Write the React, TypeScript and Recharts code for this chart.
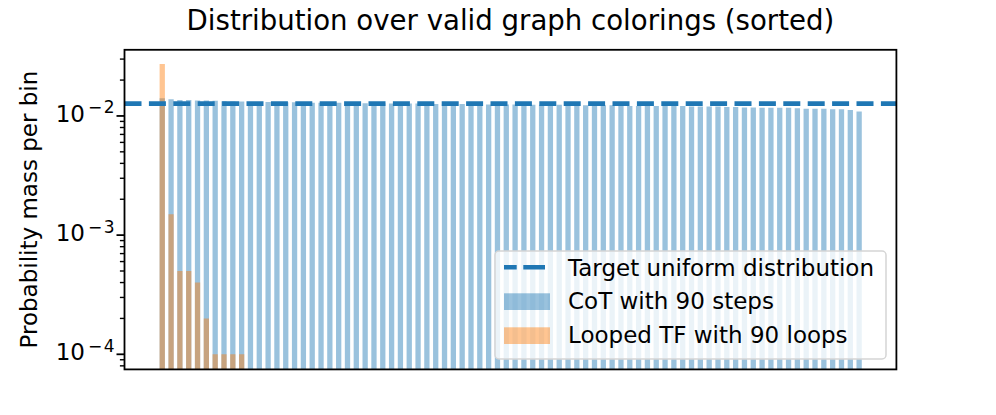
import { BarChart, Bar, XAxis, YAxis, ReferenceLine } from "recharts";

// sorted probability mass per coloring
const cotSteps = [
  0.0141, 0.0138, 0.0136, 0.0136, 0.0135, 0.0135, 0.0134, 0.0133, 0.0132, 0.0132,
  0.0131, 0.0131, 0.0131, 0.013, 0.013, 0.013, 0.0129, 0.0129, 0.0129, 0.0129,
  0.0129, 0.0128, 0.0128, 0.0128, 0.0128, 0.0128, 0.0127, 0.0127, 0.0127, 0.0127,
  0.0127, 0.0126, 0.0126, 0.0126, 0.0126, 0.0126, 0.0125, 0.0125, 0.0125, 0.0125,
  0.0125, 0.0124, 0.0124, 0.0124, 0.0124, 0.0124, 0.0124, 0.0124, 0.0123, 0.0123,
  0.0123, 0.0123, 0.0122, 0.0121, 0.0121, 0.0121, 0.0121, 0.0121, 0.0121, 0.0121,
  0.012, 0.012, 0.012, 0.012, 0.0119, 0.0119, 0.0118, 0.0118, 0.0117, 0.0117,
  0.0117, 0.0117, 0.0116, 0.0115, 0.0115, 0.0115, 0.0114, 0.0114, 0.0112, 0.0109,
];
const loopedTf = [0.0273, 0.0015, 0.0005, 0.0005, 0.0004, 0.0002, 0.0001, 0.0001, 0.0001, 0.0001];
const targetUniform = 0.0127;
const yTicks = [
  8e-5, 9e-5,
  1e-4, 2e-4, 3e-4, 4e-4, 5e-4, 6e-4, 7e-4, 8e-4, 9e-4,
  1e-3, 2e-3, 3e-3, 4e-3, 5e-3, 6e-3, 7e-3, 8e-3, 9e-3,
  1e-2, 2e-2, 3e-2,
];

const data = cotSteps.map((v, i) => ({
  rank: i + 1,
  cot: v,
  looped: i < loopedTf.length ? loopedTf[i] : null,
}));

const FONT = "DejaVu Sans, sans-serif";
const BLUE = "#1f77b4";
const ORANGE = "#ff7f0e";

// plot box (matches the chart margins below)
const PL = 124.5, PT = 49.8, PW = 771.9, PH = 319.6;

// eslint-disable-next-line @typescript-eslint/no-explicit-any
function LogTick({ x, y, payload }: any) {
  const v = payload.value as number;
  const lg = Math.log10(v);
  const major = Math.abs(lg - Math.round(lg)) < 1e-6;
  return (
    <g>
      <line x1={x - (major ? 8 : 4.6)} x2={x} y1={y} y2={y} stroke="#000" strokeWidth={major ? 1.8 : 1.4} />
      {major && (
        <text x={x - 10} y={y + 5.9} textAnchor="end" fontFamily={FONT} fontSize={23} fill="#000">
          <tspan>10</tspan>
          <tspan dy={-8.5} dx={3} fontSize={17}>{"\u2212"}</tspan>
          <tspan dx={1.5} fontSize={17}>{Math.abs(Math.round(lg))}</tspan>
        </text>
      )}
    </g>
  );
}

export default function App() {
  return (
    <div style={{ position: "absolute", left: 0, top: 0, width: 996, height: 415, background: "#fff" }}>
      <BarChart
        width={996}
        height={415}
        data={data}
        margin={{ top: PT, right: 996 - PL - PW, bottom: 415 - PT - PH, left: PL - 60 }}
      >
        <XAxis
          xAxisId="bottom"
          dataKey="rank"
          type="category"
          padding={{ left: 33.1, right: 33.1 }}
          height={0}
          tick={false}
          tickLine={false}
          axisLine={false}
        />
        <XAxis
          xAxisId="top"
          dataKey="rank"
          type="category"
          orientation="top"
          padding={{ left: 33.1, right: 33.1 }}
          height={0}
          tick={false}
          tickLine={false}
          axisLine={false}
        />
        <YAxis
          yAxisId="left"
          scale="log"
          type="number"
          domain={[7.47e-5, 0.0359]}
          allowDataOverflow
          ticks={yTicks}
          interval={0}
          width={60}
          tickSize={0}
          tickMargin={0}
          tickLine={false}
          tick={<LogTick />}
          axisLine={false}
        />
        <Bar
          xAxisId="bottom"
          yAxisId="left"
          dataKey="cot"
          fill={BLUE}
          fillOpacity={0.45}
          barSize={5.3}
          isAnimationActive={false}
        />
        <Bar
          xAxisId="top"
          yAxisId="left"
          dataKey="looped"
          fill={ORANGE}
          fillOpacity={0.45}
          barSize={5.3}
          isAnimationActive={false}
        />
        <ReferenceLine
          xAxisId="bottom"
          yAxisId="left"
          y={targetUniform}
          stroke={BLUE}
          strokeWidth={4.6}
          strokeDasharray="17 7.4"
        />
      </BarChart>
      <svg
        width={996}
        height={415}
        style={{ position: "absolute", left: 0, top: 0, pointerEvents: "none" }}
      >
        <rect x={PL} y={PT} width={PW} height={PH} fill="none" stroke="#000" strokeWidth={1.8} />
        <text x={PL + PW / 2} y={29.5} textAnchor="middle" fontFamily={FONT} fontSize={27.6} fill="#000">
          Distribution over valid graph colorings (sorted)
        </text>
        <text
          x={37}
          y={PT + PH / 2}
          textAnchor="middle"
          transform={`rotate(-90, 37, ${PT + PH / 2})`}
          fontFamily={FONT}
          fontSize={23}
          fill="#000"
        >
          Probability mass per bin
        </text>
        <rect x={495} y={251} width={391} height={108} rx={4} fill="#fff" fillOpacity={0.8} stroke="#d5d5d5" strokeWidth={1.5} />
        <line x1={504} x2={545} y1={267.3} y2={267.3} stroke={BLUE} strokeWidth={4.6} strokeDasharray="12.7 6.6 21.7" />
        <rect x={504} y={293.3} width={46} height={16.7} fill={BLUE} fillOpacity={0.45} />
        <rect x={504} y={327.3} width={46} height={16.7} fill={ORANGE} fillOpacity={0.45} />
        <text x={568} y={275.5} fontFamily={FONT} fontSize={23} fill="#000">Target uniform distribution</text>
        <text x={568} y={309.2} fontFamily={FONT} fontSize={23} fill="#000">CoT with 90 steps</text>
        <text x={568} y={343} fontFamily={FONT} fontSize={23} fill="#000">Looped TF with 90 loops</text>
      </svg>
    </div>
  );
}
